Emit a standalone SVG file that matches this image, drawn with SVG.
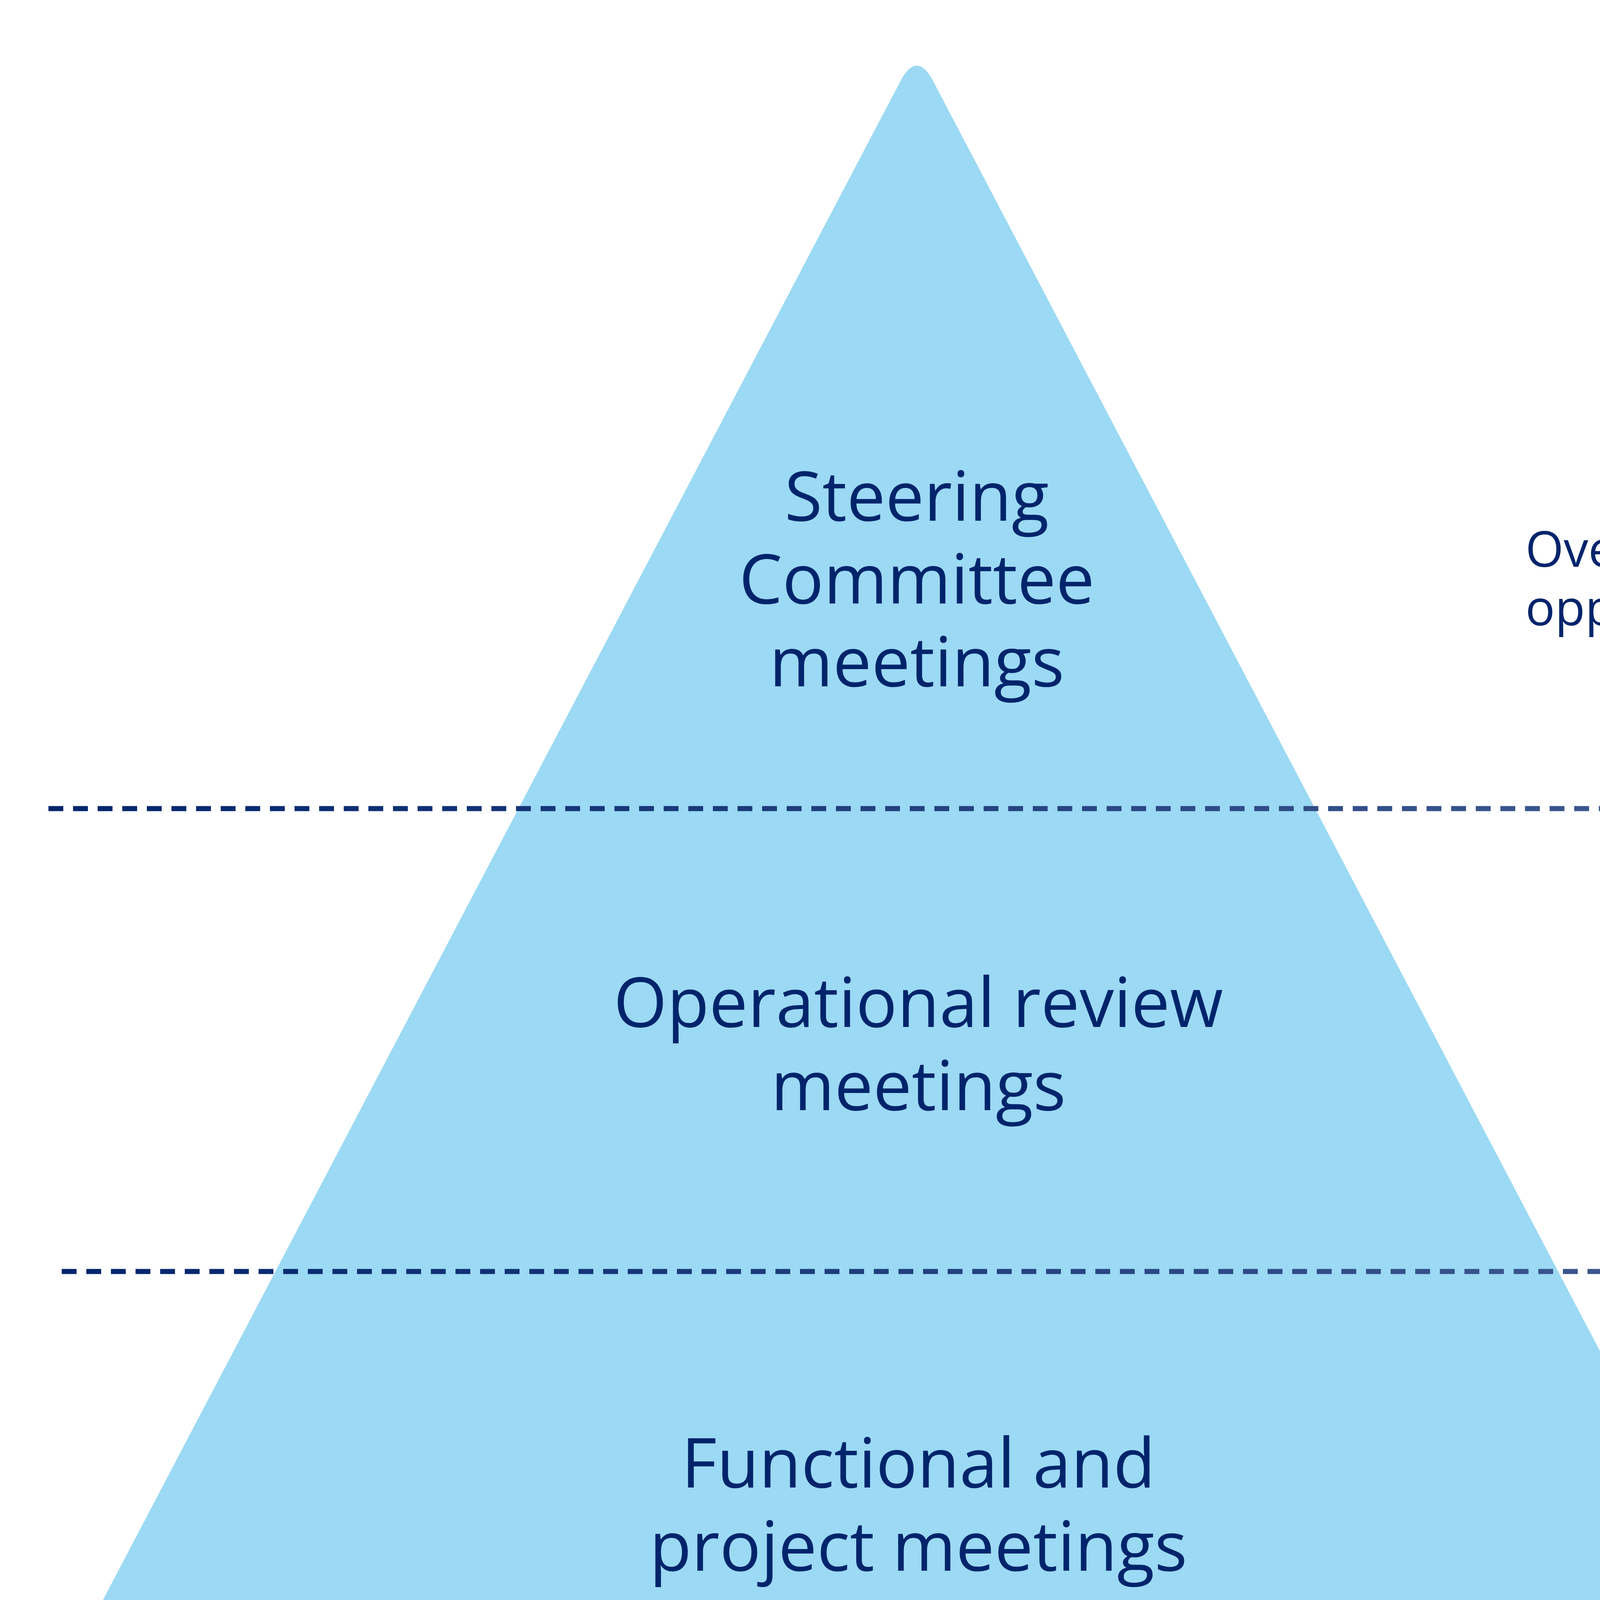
<svg xmlns="http://www.w3.org/2000/svg" width="8000" height="4500" viewBox="0 0 8000 4500">
  <defs>
    <linearGradient id="dashGrad1" gradientUnits="userSpaceOnUse" x1="124" y1="0" x2="7875" y2="0">
      <stop offset="0" stop-color="#00246B"/>
      <stop offset="1" stop-color="#7386B0"/>
    </linearGradient>
    <linearGradient id="dashGrad2" gradientUnits="userSpaceOnUse" x1="158" y1="0" x2="7909" y2="0">
      <stop offset="0" stop-color="#00246B"/>
      <stop offset="1" stop-color="#7386B0"/>
    </linearGradient>
  </defs>
  <style>
    .tier { font-family: "Open Sans", "Noto Sans", "Liberation Sans", sans-serif; font-size: 176px; fill: #00246B; text-anchor: middle; }
    .desc { font-family: "Open Sans", "Noto Sans", "Liberation Sans", sans-serif; font-size: 126px; fill: #00246B; }
    .divider { stroke-width: 13; stroke-dasharray: 38 25; fill: none; }
  </style>
  <rect x="0" y="0" width="8000" height="4500" fill="#FFFFFF"/>
  <g id="pyramid">
    <path d="M 2305 208 Q 2347 128 2389 208 L 4536 4297 Q 4576 4374 4489 4374 L 205 4374 Q 118 4374 158 4297 Z" fill="#9BD9F4"/>
  </g>
  <g id="connectors">
    <line class="divider" x1="124" y1="2070" x2="7875" y2="2070" stroke="url(#dashGrad1)"/>
    <line class="divider" x1="158" y1="3255" x2="7909" y2="3255" stroke="url(#dashGrad2)"/>
  </g>
  <g id="tier-steering">
    <text class="tier" x="2347" y="1333">Steering</text>
    <text class="tier" x="2347" y="1545">Committee</text>
    <text class="tier" x="2347" y="1757">meetings</text>
  </g>
  <g id="tier-operational">
    <text class="tier" x="2351" y="2629">Operational review</text>
    <text class="tier" x="2351" y="2842">meetings</text>
  </g>
  <g id="tier-functional">
    <text class="tier" x="2351" y="3808">Functional and</text>
    <text class="tier" x="2351" y="4021">project meetings</text>
  </g>
  <g id="desc-steering">
    <text class="desc" x="3905" y="1451">Overall assessment of partnership,</text>
    <text class="desc" x="3905" y="1601">opportunities and high-level roadmap definition</text>
  </g>
  <g id="desc-operational">
    <text class="desc" x="4460" y="2635">Alignment and oversight of operational</text>
    <text class="desc" x="4460" y="2785">performance, CI governance</text>
  </g>
  <g id="desc-functional">
    <text class="desc" x="5005" y="3819">Functional alignment, SME collaboration,</text>
    <text class="desc" x="5005" y="3970">tactical execution, project delivery</text>
  </g>
</svg>
